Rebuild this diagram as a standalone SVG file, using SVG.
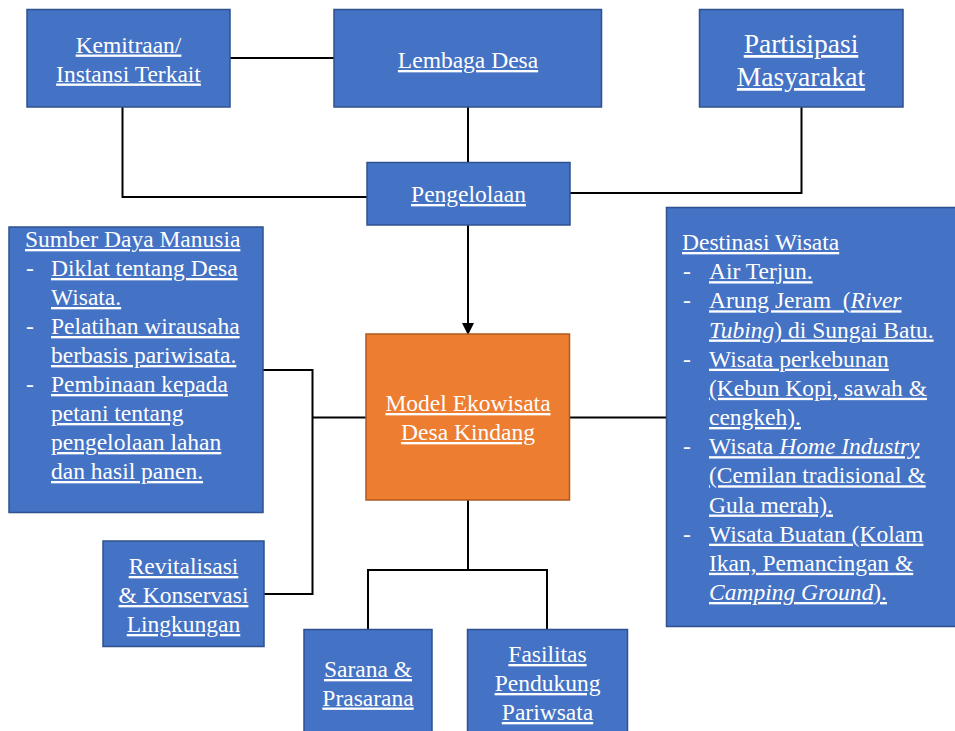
<svg xmlns="http://www.w3.org/2000/svg" width="955" height="731" viewBox="0 0 955 731">
<style>
.b{fill:#4472C4;stroke:#2F528F;stroke-width:1.5}
.o{fill:#ED7D31;stroke:#AE5A21;stroke-width:1.5}
.t{font-family:"Liberation Serif","Times New Roman",serif;font-size:23.5px;fill:#FFFFFF}
.c{text-anchor:middle}
.u{text-decoration:underline}
.big{font-size:27.5px}
.i{font-style:italic}
.ln{fill:none;stroke:#000000;stroke-width:2}
</style>
<defs>
<marker id="arr" markerWidth="12" markerHeight="12" refX="11" refY="6" orient="auto" markerUnits="userSpaceOnUse">
<path d="M0,0 L12,6 L0,12 Z" fill="#000000"/>
</marker>
</defs>
<rect width="955" height="731" fill="#FFFFFF"/>
<g id="connectors">
<path class="ln" d="M230,58 H334"/>
<path class="ln" d="M468,107 V162"/>
<path class="ln" d="M122.5,107 V197 H367"/>
<path class="ln" d="M801.5,107 V193 H570"/>
<path class="ln" d="M468,225 V334" marker-end="url(#arr)"/>
<path class="ln" d="M263,370 H312.5 V594 H264"/>
<path class="ln" d="M312.5,417.5 H366"/>
<path class="ln" d="M570,417.5 H667"/>
<path class="ln" d="M468,500 V570"/>
<path class="ln" d="M368,629 V570 H547 V629"/>
</g>
<g id="kemitraan">
<rect class="b" x="27" y="9.5" width="203" height="97.5"/>
<text class="t c u" x="128.5" y="52.5">Kemitraan/</text>
<text class="t c u" x="128.5" y="81.5">Instansi Terkait</text>
</g>
<g id="lembaga">
<rect class="b" x="334" y="9.5" width="267.5" height="97.5"/>
<text class="t c u" x="468" y="68">Lembaga Desa</text>
</g>
<g id="partisipasi">
<rect class="b" x="699.5" y="9.5" width="203.5" height="97.5"/>
<text class="t c u big" x="801" y="53">Partisipasi</text>
<text class="t c u big" x="801" y="86">Masyarakat</text>
</g>
<g id="pengelolaan">
<rect class="b" x="367" y="162.5" width="203" height="62.5"/>
<text class="t c u" x="468.5" y="202">Pengelolaan</text>
</g>
<g id="sdm">
<rect class="b" x="9" y="227" width="254" height="285.5"/>
<text class="t u" x="25" y="247">Sumber Daya Manusia</text>
<text class="t" x="26" y="276">-</text>
<text class="t u" x="51" y="276">Diklat tentang Desa</text>
<text class="t u" x="51" y="305">Wisata.</text>
<text class="t" x="26" y="334">-</text>
<text class="t u" x="51" y="334">Pelatihan wirausaha</text>
<text class="t u" x="51" y="363">berbasis pariwisata.</text>
<text class="t" x="26" y="392">-</text>
<text class="t u" x="51" y="392">Pembinaan kepada</text>
<text class="t u" x="51" y="421">petani tentang</text>
<text class="t u" x="51" y="450">pengelolaan lahan</text>
<text class="t u" x="51" y="479">dan hasil panen.</text>
</g>
<g id="model">
<rect class="o" x="366" y="334" width="203.5" height="166"/>
<text class="t c u" x="468" y="411">Model Ekowisata</text>
<text class="t c u" x="468" y="440">Desa Kindang</text>
</g>
<g id="destinasi">
<rect class="b" x="666.5" y="207.5" width="292" height="419"/>
<text class="t u" x="682" y="250">Destinasi Wisata</text>
<text class="t" x="683" y="279.2">-</text>
<text class="t u" x="709" y="279.2">Air Terjun.</text>
<text class="t" x="683" y="308.3">-</text>
<text class="t u" x="709" y="308.3" xml:space="preserve" style="white-space:pre">Arung Jeram  (<tspan class="i">River</tspan></text>
<text class="t u" x="709" y="337.5"><tspan class="i">Tubing</tspan>) di Sungai Batu.</text>
<text class="t" x="683" y="366.7">-</text>
<text class="t u" x="709" y="366.7">Wisata perkebunan</text>
<text class="t u" x="709" y="395.8">(Kebun Kopi, sawah &amp;</text>
<text class="t u" x="709" y="425">cengkeh).</text>
<text class="t" x="683" y="454.2">-</text>
<text class="t u" x="709" y="454.2">Wisata <tspan class="i">Home Industry</tspan></text>
<text class="t u" x="709" y="483.3">(Cemilan tradisional &amp;</text>
<text class="t u" x="709" y="512.5">Gula merah).</text>
<text class="t" x="683" y="541.7">-</text>
<text class="t u" x="709" y="541.7">Wisata Buatan (Kolam</text>
<text class="t u" x="709" y="570.8">Ikan, Pemancingan &amp;</text>
<text class="t u" x="709" y="600"><tspan class="i">Camping Ground</tspan>).</text>
</g>
<g id="revitalisasi">
<rect class="b" x="103" y="541" width="161" height="105.5"/>
<text class="t c u" x="183.5" y="574">Revitalisasi</text>
<text class="t c u" x="183.5" y="603">&amp; Konservasi</text>
<text class="t c u" x="183.5" y="632">Lingkungan</text>
</g>
<g id="sarana">
<rect class="b" x="304" y="629.5" width="128" height="110"/>
<text class="t c u" x="368" y="677">Sarana &amp;</text>
<text class="t c u" x="368" y="705.5">Prasarana</text>
</g>
<g id="fasilitas">
<rect class="b" x="467.5" y="629.5" width="160" height="110"/>
<text class="t c u" x="547.5" y="662">Fasilitas</text>
<text class="t c u" x="547.5" y="691">Pendukung</text>
<text class="t c u" x="547.5" y="720">Pariwsata</text>
</g>
</svg>
